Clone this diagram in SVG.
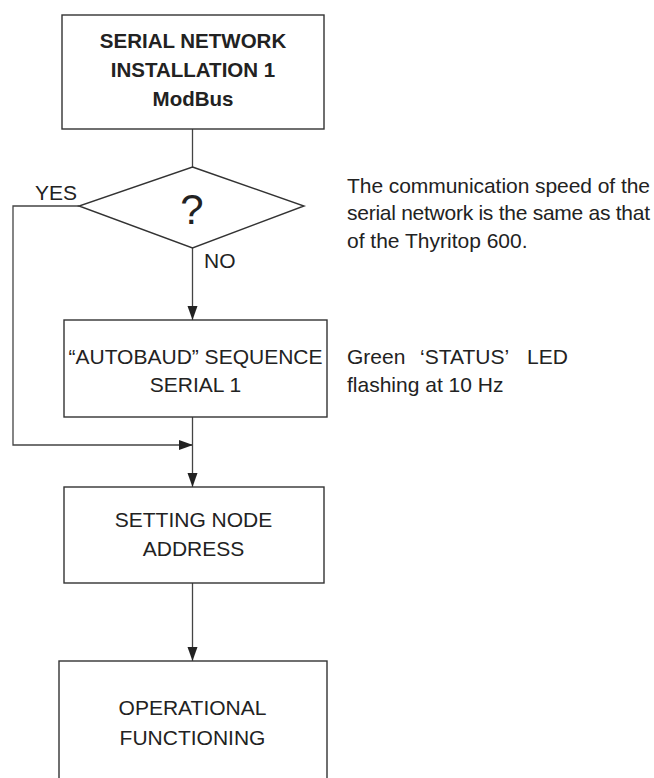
<svg xmlns="http://www.w3.org/2000/svg" width="654" height="778" viewBox="0 0 654 778">
<defs>
<style>
.box{fill:#fff;stroke:#333;stroke-width:1.4}
.con{fill:none;stroke:#444;stroke-width:1.3}
text{font-family:"Liberation Sans",Arial,Helvetica,sans-serif;font-size:21px;fill:#222}
.c{text-anchor:middle}
.b{font-weight:bold;font-size:20.5px}
</style>
<marker id="arr" markerUnits="userSpaceOnUse" markerWidth="15" markerHeight="12" refX="14" refY="5" orient="auto">
<path d="M0,0 L14,5 L0,10 Z" fill="#222"/>
</marker>
</defs>
<rect width="654" height="778" fill="#fff"/>
<g id="connectors">
<line class="con" x1="192.5" y1="129" x2="192.5" y2="167"/>
<line class="con" x1="192.5" y1="248" x2="192.5" y2="320" marker-end="url(#arr)"/>
<polyline class="con" points="79,206 13,206 13,445 193,445" marker-end="url(#arr)"/>
<line class="con" x1="192.5" y1="417" x2="192.5" y2="487" marker-end="url(#arr)"/>
<line class="con" x1="192.5" y1="583" x2="192.5" y2="661" marker-end="url(#arr)"/>
<text x="35" y="200">YES</text>
<text x="204" y="268">NO</text>
</g>
<g id="start">
<rect class="box" x="62" y="15" width="262" height="114"/>
<text class="c b" x="193" y="48">SERIAL NETWORK</text>
<text class="c b" x="193" y="77">INSTALLATION 1</text>
<text class="c b" x="193" y="106">ModBus</text>
</g>
<g id="decision">
<polygon class="box" points="192.5,167 304,206 192.5,248 79,206"/>
<text class="c" x="192" y="224" style="font-size:42px">?</text>
</g>
<g id="note-speed">
<text x="347" y="193" textLength="303" lengthAdjust="spacing">The communication speed of the</text>
<text x="347" y="220" textLength="303" lengthAdjust="spacing">serial network is the same as that</text>
<text x="347" y="248">of the Thyritop 600.</text>
</g>
<g id="autobaud">
<rect class="box" x="64" y="320" width="263" height="97"/>
<text class="c" x="195.5" y="364">“AUTOBAUD” SEQUENCE</text>
<text class="c" x="195.5" y="392">SERIAL 1</text>
</g>
<g id="note-led">
<text y="364"><tspan x="347">Green</tspan><tspan x="420">‘STATUS’</tspan><tspan x="527">LED</tspan></text>
<text x="347" y="392">flashing at 10 Hz</text>
</g>
<g id="setting">
<rect class="box" x="64" y="487" width="260" height="96"/>
<text class="c" x="193.5" y="527">SETTING NODE</text>
<text class="c" x="193.5" y="556">ADDRESS</text>
</g>
<g id="operational">
<rect class="box" x="59" y="661" width="268" height="130"/>
<text class="c" x="192.5" y="715">OPERATIONAL</text>
<text class="c" x="192.5" y="745">FUNCTIONING</text>
</g>
</svg>
